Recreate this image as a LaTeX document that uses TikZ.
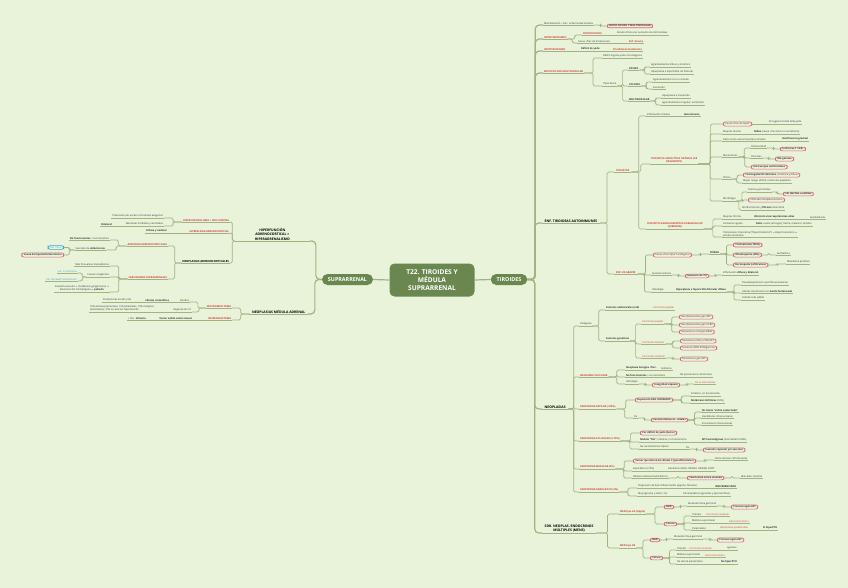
\documentclass[tikz,border=0pt]{standalone}
\usepackage{fontspec}
\setmainfont{Open Sans}
\newfontfamily\symf{DejaVu Sans}
\newcommand\ar{{\symf →}}
\usetikzlibrary{calc}
\definecolor{cBg}{HTML}{E8F3DA}
\definecolor{cOlive}{HTML}{6B8750}
\definecolor{cLine}{HTML}{A3B283}
\definecolor{cRed}{HTML}{D43A3A}
\definecolor{cPink}{HTML}{E4607A}
\definecolor{cBlue}{HTML}{3AA6D6}
\definecolor{cText}{HTML}{333333}
\tikzset{
 lnk/.style={draw=cLine, line width=0.7pt, rounded corners=1.5pt},
 lnk1/.style={draw=cLine, line width=1.2pt, rounded corners=4pt},
 base/.style={font=\fontsize{2.5}{3}\selectfont, inner xsep=0.8pt, inner ysep=0.7pt, text=cText},
 uline/.style={append after command={(\tikzlastnode.south west) edge[lnk] (\tikzlastnode.south east)}},
 ulineH/.style={append after command={(\tikzlastnode.south west) edge[lnk,line width=1pt] (\tikzlastnode.south east)}},
 R/.style={base, anchor=south west, uline},
 L/.style={base, anchor=south east, uline},
 RH/.style={base, anchor=south west, ulineH, inner xsep=2.5pt, font=\fontsize{3.4}{4.2}\selectfont\bfseries, text=black},
 LH/.style={base, anchor=south east, ulineH, inner xsep=2.5pt, font=\fontsize{3.4}{4.2}\selectfont\bfseries, text=black},
 rd/.style={text=cRed},
 rdb/.style={text=cRed, font=\fontsize{2.5}{3}\selectfont\bfseries},
 bb/.style={font=\fontsize{2.5}{3}\selectfont\bfseries},
 bl/.style={text=cBlue},
 pill/.style={base, draw=cPink, line width=0.65pt, rounded corners=2.2pt, inner xsep=2pt, inner ysep=0.9pt, anchor=west},
 pillL/.style={pill, anchor=east},
 bpill/.style={pillL, draw=cBlue, text=cBlue},
 rootn/.style={fill=cOlive, rounded corners=5pt, minimum width=85pt, minimum height=33pt, text=white, font=\fontsize{6.6}{7.8}\selectfont\bfseries, align=center},
 siden/.style={fill=cOlive, rounded corners=5.5pt, minimum height=11pt, inner xsep=6pt, text=white, font=\fontsize{5.4}{6}\selectfont\bfseries},
}
\newcommand\cc[3][lnk]{\draw[#1] (#2) -| ($(#2)!.5!(#3)$) |- (#3);}
\newcommand\cs[3][lnk]{\draw[#1] (#2) -- (#3);}
\begin{document}
\begin{tikzpicture}[x=1pt,y=-1pt]
\fill[cBg] (0,0) rectangle (848,588);
\useasboundingbox (0,0) rectangle (848,588);
% center
\node[rootn] (root) at (432,280) {T22. TIROIDES Y\\MÉDULA\\SUPRARRENAL};
\node[siden] (sup) at (347.5,279.5) {SUPRARRENAL};
\node[siden] (tir) at (509,279.5) {TIROIDES};
\cs[lnk1]{root.west}{sup.east}
\cs[lnk1]{root.east}{tir.west}
% ================= LEFT =================
\node[LH,align=center,minimum width=75pt] (hf) at (310,241) {HIPERFUNCIÓN\\ADRENOCORTICAL =\\HIPERADRENALISMO};
\node[LH] (nm) at (308,314) {NEOPLASIAS MÉDULA ADRENAL};
\cc[lnk1]{sup.west}{hf.south east}
\cc[lnk1]{sup.west}{nm.south east}
\node[L,rdb] (hc) at (230,222) {HIPERCORTISOLISMO = SDR CUSHING};
\node[L] (hc1) at (164,218) {Provocado por exceso corticoides exógenos};
\node[L] (hc2) at (164,226) {Glándulas inhibidas y atrofiadas};
\node[L,bb] (hc3) at (113,226) {Bilateral};
\node[L,rdb] (hp) at (230,233) {HIPERPLASIA ADRENOCORTICAL};
\node[L,bb] (hp1) at (168,233) {Difusa y nodular};
\node[L,font=\fontsize{2.8}{3.3}\selectfont\bfseries,text=black] (na) at (230,263) {NEOPLASIAS ADRENOCORTICALES};
\node[L,rdb] (aa) at (168,246) {ADENOMA ADRENOCORTICALES};
\node[L] (aa1) at (110,240) {\textbf{No funcionantes} > Funcionantes};
\node[L] (aa2) at (106,250) {Secretan de \textbf{aldosterona}};
\node[bpill] (aa3) at (64,247.5) {Sdr. Conn};
\node[pillL,bb] (aa4) at (64,255) {Causa de hiperaldosteronismo};
\node[L,rdb] (cs) at (168,279) {CARCINOMAS SUPRARRENALES};
\node[L] (cs1) at (110,266) {Más frecuentes metastásicos};
\node[L] (cs2) at (110,277) {Causas congénitas};
\node[L,bl] (cs3) at (78,273) {Sdr. Li-Fraumeni};
\node[L,bl] (cs4) at (78,281) {Sdr. Beckwith-Wiedemann};
\node[L,align=center] (cs5) at (110,292) {Invasión vascular \ar\ metástasis ganglionares \ar\\diseminación hematógena \ar\ \textbf{pulmón}};
\cc{hf.south west}{hc.south east}
\cc{hc.south west}{hc1.south east}
\cc{hc.south west}{hc2.south east}
\cs{hc2.south west}{hc3.south east}
\cc{hf.south west}{hp.south east}
\cs{hp.south west}{hp1.south east}
\cc{hf.south west}{na.south east}
\cc{na.south west}{aa.south east}
\cc{aa.south west}{aa1.south east}
\cc{aa.south west}{aa2.south east}
\cc{aa2.south west}{aa3.east}
\cc{aa2.south west}{aa4.east}
\cc{na.south west}{cs.south east}
\cc{cs.south west}{cs1.south east}
\cc{cs.south west}{cs2.south east}
\cc{cs2.south west}{cs3.south east}
\cc{cs2.south west}{cs4.south east}
\cc{cs.south west}{cs5.south east}
\node[L,rdb] (fe) at (232,308) {FEOCROMOCITOMA};
\node[L] (fe1) at (190,302) {Adultos};
\node[L,bb] (fe2) at (170,302) {Células cromafines};
\node[L] (fe3) at (132,302) {Productoras de AD y NA};
\node[L] (fe4) at (192,312) {Regla de los 10};
\node[L,align=left] (fe5) at (155,312) {10\% extrasuprarrenales, 10\% bilaterales, 10\% malignos\\(metástasis), 10\% no asocian hipertensión};
\node[L,rdb] (nb) at (232,320) {NEUROBLASTOMA};
\node[L,bb] (nb1) at (193,320) {Tumor sólido extracraneal};
\node[L] (nb2) at (147,320) {+ frec. \textbf{Infancia}};
\cc{nm.south west}{fe.south east}
\cc{fe.south west}{fe1.south east}
\cs{fe1.south west}{fe2.south east}
\cs{fe2.south west}{fe3.south east}
\cc{fe.south west}{fe4.south east}
\cs{fe4.south west}{fe5.south east}
\cc{nm.south west}{nb.south east}
\cs{nb.south west}{nb1.south east}
\cs{nb1.south west}{nb2.south east}
% ================= RIGHT =================
\node[R] (m1) at (543,25) {Manifestación + frec. enfermedad tiroidea};
\node[pill,bb] (m1p) at (607,26) {BOCIO DIFUSO Y MULTINODULAR};
\node[R,rdb] (ht) at (543,39) {HIPERTIROIDISMO};
\node[R,rdb] (tt) at (582,35) {TIROTOXICOSIS};
\node[R] (tt1) at (616,35) {Estado clínico por aumento de HH tiroideas};
\node[R] (ht2) at (577,43) {Causa +frec de tirotoxicosis};
\node[R,rdb] (ht3) at (628,43) {Enf. Graves};
\node[R,rdb] (hpo) at (543,51) {HIPOTIROIDISMO};
\node[R,bb] (hpo1) at (580,51) {Déficit de yodo};
\node[R,rdb] (hpo2) at (612,51) {Tiroiditis de Hashimoto};
\node[R,rdb] (bo) at (543,73) {BOCIO DIFUSO MULTINODULAR};
\node[R] (bo1) at (602,58) {Déficit ingesta yodo o bociógenos};
\node[R] (bo2) at (602,86) {Tipos bocio};
\node[R,bb] (df) at (628,70) {DIFUSO};
\node[R] (df1) at (650,67) {Agrandamiento difuso y simétrico};
\node[R] (df2) at (650,74) {Hiperplasia e hipertrofia cel folicular};
\node[R,bb] (co) at (628,86) {COLOIDE};
\node[R] (co1) at (652,82) {Agrandamiento rico en coloide};
\node[R] (co2) at (652,89) {Involución};
\node[R,bb] (mn) at (628,101) {MULTINODULAR};
\node[R] (mn1) at (661,98) {Hiperplasia e involución};
\node[R] (mn2) at (661,105) {Agrandamiento irregular, asimétrico};
\cc[lnk1]{tir.east}{m1.south west}
\cc{m1.south east}{m1p.west}
\cc[lnk1]{tir.east}{ht.south west}
\cc{ht.south east}{tt.south west}
\cs{tt.south east}{tt1.south west}
\cc{ht.south east}{ht2.south west}
\cs{ht2.south east}{ht3.south west}
\cc[lnk1]{tir.east}{hpo.south west}
\cs{hpo.south east}{hpo1.south west}
\cs{hpo1.south east}{hpo2.south west}
\cc[lnk1]{tir.east}{bo.south west}
\cc{bo.south east}{bo1.south west}
\cc{bo.south east}{bo2.south west}
\cc{bo2.south east}{df.south west}
\cc{bo2.south east}{co.south west}
\cc{bo2.south east}{mn.south west}
\cc{df.south east}{df1.south west}
\cc{df.south east}{df2.south west}
\cc{co.south east}{co1.south west}
\cc{co.south east}{co2.south west}
\cc{mn.south east}{mn1.south west}
\cc{mn.south east}{mn2.south west}
% ENF AUTOINMUNES
\node[RH] (et) at (542,223) {ENF. TIROIDEAS AUTOINMUNES};
\cc[lnk1]{tir.east}{et.south west}
\node[R,rdb,inner xsep=2pt] (ti) at (614,172) {TIROIDITIS};
\node[R] (ti1) at (646,116) {Inflamación tiroides};
\node[R,bb] (ti2) at (683,116) {Autoinmune};
\node[R,rdb,align=center] (ha) at (650,164) {TIROIDITIS LINFOCÍTICA CRÓNICA (DE\\HASHIMOTO)};
\node[pill] (ha1) at (723,124) {Causa +frec de hipoT};
\node[R] (ha1a) at (768,124) {En lugares donde falta yodo};
\node[R] (ha2) at (722,134) {Mujeres 45-65a};
\node[R] (ha2a) at (753,134) {\textbf{Niños} (causa +frec bocio no endémico)};
\node[R] (ha3) at (722,141) {Destrucción autoinmunitaria tiroides};
\node[R,bb] (ha3a) at (781,141) {Insuficiencia gradual};
\node[R] (ha4) at (722,157) {Mecanismos};
\node[R] (ha4a) at (750,148) {Citotoxicidad};
\node[pill,bb] (ha4b) at (780,149) {Linfocitos T CD8+};
\node[R] (ha4c) at (750,158) {Citocinas};
\node[pill,bb] (ha4d) at (775,159) {INF-gamma};
\node[pill,bb] (ha4e) at (751,167) {Anticuerpos antitiroideos};
\node[R] (ha5) at (722,179) {Clínica};
\node[pill] (ha5a) at (743,175) {\textbf{Tiromegalia NO dolorosa}, simétrica y difusa};
\node[R] (ha5b) at (742,183) {Mayor riesgo LNH B, carcinoma papilares};
\node[R] (ha6) at (722,201) {Morfología};
\node[R] (ha6a) at (747,192) {Centros germinales};
\node[pill,bb] (ha6b) at (783,194) {Cél Hürthle u oxífilas};
\node[pill] (ha6c) at (748,200) {Infiltrado linfoplasmocitario};
\node[R] (ha6d) at (741,210) {Atrofia folicular y \textbf{fibrosis} intersticial};
\node[R,rdb,align=center] (dq) at (646,229) {TIROIDITIS GRANULOMATOSA SUBAGUDA (DE\\QUERVAIN)};
\node[R] (dq1) at (722,219) {Mujeres 30-50a};
\node[R,bb] (dq2) at (753,219) {Infección vías respiratorias altas};
\node[R] (dq3) at (809,219) {Autolimitada};
\node[R] (dq4) at (722,226) {Comienzo agudo};
\node[R] (dq5) at (755,226) {\textbf{Dolor} cuello (al tragar), fiebre, malestar, tiroides};
\node[R,align=left] (dq6) at (722,237) {Tirotoxicosis transitoria (``hipertiroidismo'') \ar\ Hipot transitorio \ar\\estado eutiroideo};
\cc{et.south east}{ti.south west}
\cc{ti.south east}{ti1.south west}
\cs{ti1.south east}{ti2.south west}
\cc{ti.south east}{ha.south west}
\cc{ha.south east}{ha1.west}
\cs{ha1.east}{ha1a.south west}
\cc{ha.south east}{ha2.south west}
\cs{ha2.south east}{ha2a.south west}
\cc{ha.south east}{ha3.south west}
\cs{ha3.south east}{ha3a.south west}
\cc{ha.south east}{ha4.south west}
\cc{ha4.south east}{ha4a.south west}
\cc{ha4a.south east}{ha4b.west}
\cc{ha4.south east}{ha4c.south west}
\cc{ha4c.south east}{ha4d.west}
\cc{ha4.south east}{ha4e.west}
\cc{ha.south east}{ha5.south west}
\cc{ha5.south east}{ha5a.west}
\cc{ha5.south east}{ha5b.south west}
\cc{ha.south east}{ha6.south west}
\cc{ha6.south east}{ha6a.south west}
\cc{ha6a.south east}{ha6b.west}
\cc{ha6.south east}{ha6c.west}
\cc{ha6.south east}{ha6d.south west}
\cc{ti.south east}{dq.south west}
\cc{dq.south east}{dq1.south west}
\cs{dq1.south east}{dq2.south west}
\cs{dq2.south east}{dq3.south west}
\cc{dq.south east}{dq4.south west}
\cs{dq4.south east}{dq5.south west}
\cc{dq.south east}{dq6.south west}
% GRAVES
\node[R,rdb,inner xsep=2pt] (gr) at (614,274) {ENF. DE GRAVES};
\node[pill] (gr1) at (653,255) {Causa +frec hiperT endógeno};
\node[R,bb] (gr2) at (709,254) {TRÍADA};
\node[pill,bb] (gr3) at (733,245) {Tirotoxicosis (100\%)};
\node[pill,bb] (gr4) at (733,255) {Oftalmopatía (40\%)};
\node[R] (gr4a) at (776,255) {Exoftalmos};
\node[pill,bb] (gr5) at (733,265) {Dermopatía (infiltrativa)};
\node[R] (gr5a) at (786,264) {Mixedema pretibial};
\node[R] (gr6) at (651,275) {Autoinmunitaria};
\node[pill,bb] (gr7) at (685,276) {Aumento de TSI};
\node[R] (gr8) at (722,275) {Inflamación \textbf{difusa y bilateral}};
\node[R] (gr9) at (651,292) {Histología};
\node[R,bb] (gr10) at (675,292) {Hiperplasia e hipertrofia folicular difusa};
\node[R] (gr11) at (741,285) {Pseudopapilas (sin ejes fibrovasculares)};
\node[R] (gr12) at (741,293) {Células columnares con \textbf{borde festoneado}};
\node[R] (gr13) at (741,300) {Coloide más pálido};
\cc{et.south east}{gr.south west}
\cc{gr.south east}{gr1.west}
\cc{gr1.east}{gr2.south west}
\cc{gr2.south east}{gr3.west}
\cc{gr2.south east}{gr4.west}
\cc{gr2.south east}{gr5.west}
\cc{gr4.east}{gr4a.south west}
\cc{gr5.east}{gr5a.south west}
\cc{gr.south east}{gr6.south west}
\cc{gr6.south east}{gr7.west}
\cc{gr7.east}{gr8.south west}
\cc{gr.south east}{gr9.south west}
\cs{gr9.south east}{gr10.south west}
\cc{gr10.south east}{gr11.south west}
\cc{gr10.south east}{gr12.south west}
\cc{gr10.south east}{gr13.south west}
% NEOPLASIAS
\node[RH] (ne) at (542,409) {NEOPLASIAS};
\cc[lnk1]{tir.east}{ne.south west}
\node[R] (pg) at (579,326) {Patogenia};
\node[R,bb] (pa) at (605,310) {Factores ambientales (rad)};
\node[R,rd] (pa1) at (652,310) {Carcinoma papilar};
\node[R,bb] (pgn) at (605,341) {Factores genéticos};
\node[R,rd] (gp) at (641,324) {Carcinoma papilar};
\node[pill] (gp1) at (679,317) {Reordenamiento gen RET};
\node[pill] (gp2) at (679,325) {Reordenamiento gen NTRK};
\node[pill] (gp3) at (679,332) {Mutaciones oncogén BRAF};
\node[R,rd] (gf) at (641,344) {Carcinoma folicular};
\node[pill] (gf1) at (680,341) {Mutaciones RAS y PI3K/AKT};
\node[pill] (gf2) at (680,348) {Fusiones PAX8-PPARgamma};
\node[R,rd] (gm) at (641,358) {Carcinoma medular};
\node[pill] (gm1) at (680,359) {Mutaciones gen RET};
\cc{ne.south east}{pg.south west}
\cc{pg.south east}{pa.south west}
\cs{pa.south east}{pa1.south west}
\cc{pg.south east}{pgn.south west}
\cc{pgn.south east}{gp.south west}
\cc{gp.south east}{gp1.west}
\cc{gp.south east}{gp2.west}
\cc{gp.south east}{gp3.west}
\cc{pgn.south east}{gf.south west}
\cc{gf.south east}{gf1.west}
\cc{gf.south east}{gf2.west}
\cc{pgn.south east}{gm.south west}
\cc{gm.south east}{gm1.west}
\node[R,rdb] (af) at (579,377) {ADENOMA FOLICULAR};
\node[R,bb] (af1) at (625,370) {Neoplasia benigna +frec.};
\node[R] (af1a) at (660,370) {Solitarios};
\node[R] (af2) at (625,377) {\textbf{No funcionantes} > Funcionantes};
\node[R] (af2a) at (679,377) {No precursores carcinomas};
\node[R] (af3) at (625,384) {Histología};
\node[pill,bb] (af4) at (652,385) {Integridad cápsula};
\node[R,rd] (af5) at (694,384) {Dx vs carcinomas};
\cc{ne.south east}{af.south west}
\cc{af.south east}{af1.south west}
\cs{af1.south east}{af1a.south west}
\cc{af.south east}{af2.south west}
\cs{af2.south east}{af2a.south west}
\cc{af.south east}{af3.south west}
\cc{af3.south east}{af4.west}
\cc{af4.east}{af5.south west}
\node[R,rdb] (cp) at (579,409) {CARCINOMA PAPILAR (>85\%)};
\node[pill,bb] (cp1) at (635,400) {Exposición RAD IONIZANTE};
\node[R] (cp1a) at (690,396) {Indoloro, no funcionante};
\node[R] (cp1b) at (690,403) {\textbf{Metástasis linfáticas} (50\%)};
\node[R] (cp2) at (633,418) {Dx};
\node[pill,bb] (cp3) at (651,420) {Características nc. células};
\node[R,bb] (cp3a) at (701,412) {Nc claros ``vidrio esmerilado''};
\node[R] (cp3b) at (701,418) {Hendiduras intranucleares};
\node[R] (cp3c) at (701,425) {Inclusiones intranucleares};
\cc{ne.south east}{cp.south west}
\cc{cp.south east}{cp1.west}
\cc{cp1.east}{cp1a.south west}
\cc{cp1.east}{cp1b.south west}
\cc{cp.south east}{cp2.south west}
\cc{cp2.south east}{cp3.west}
\cc{cp3.east}{cp3a.south west}
\cc{cp3.east}{cp3b.south west}
\cc{cp3.east}{cp3c.south west}
\node[R,rdb] (cf) at (579,441) {CARCINOMA FOLICULAR (5-15\%)};
\node[pill,bb] (cf1) at (640,433) {Por déficit de yodo (bocio)};
\node[R] (cf2) at (639,442) {\textbf{Nódulo ``frío''}, indoloro, no funcionante};
\node[R] (cf2a) at (701,442) {\textbf{MT hematógenas} (mortalidad 5-80\%)};
\node[R] (cf3) at (639,449) {No características típicas};
\node[R] (cf4) at (685,449) {Dx};
\node[pill,bb] (cf5) at (703,450) {Invasión capsular y/o vascular};
\cc{ne.south east}{cf.south west}
\cc{cf.south east}{cf1.west}
\cc{cf.south east}{cf2.south west}
\cs{cf2.south east}{cf2a.south west}
\cc{cf.south east}{cf3.south west}
\cs{cf3.south east}{cf4.south west}
\cc{cf4.south east}{cf5.west}
\node[R,rdb] (cm) at (579,469) {CARCINOMA MEDULAR (5\%)};
\node[pill,bb] (cm1) at (633,461) {Tumor que deriva de células C (parafoliculares)};
\node[R] (cm1a) at (714,460) {Resto derivan cél foliculares};
\node[R] (cm2) at (632,471) {Esporádicos (70\%)};
\node[R] (cm2a) at (667,471) {Familiares (30\%): MEN2A, MEN2B, CMTF};
\node[R] (cm3) at (632,478) {Nódulo solitario/multicéntrico};
\node[pill,bb] (cm4) at (687,478) {Calcitonina sérica elevada};
\node[R] (cm4a) at (740,478) {Marcador tumoral};
\cc{ne.south east}{cm.south west}
\cc{cm.south east}{cm1.west}
\cc{cm1.east}{cm1a.south west}
\cc{cm.south east}{cm2.south west}
\cs{cm2.south east}{cm2a.south west}
\cc{cm.south east}{cm3.south west}
\cc{cm3.south east}{cm4.west}
\cc{cm4.east}{cm4a.south west}
\node[R,rdb] (ca) at (579,492) {CARCINOMA ANAPLÁSICO (2\%)};
\node[R] (ca1) at (637,488) {Progresión de bien diferenciados (papilar, folicular)};
\node[R,bb] (ca1a) at (714,488) {INDIFERENCIADO};
\node[R] (ca2) at (637,496) {Muy agresivo y letal (<1a)};
\node[R] (ca2a) at (682,496) {Cél anaplásicas (grandes y pleomórficas)};
\cc{ne.south east}{ca.south west}
\cc{ca.south east}{ca1.south west}
\cs{ca1.south east}{ca1a.south west}
\cc{ca.south east}{ca2.south west}
\cs{ca2.south east}{ca2a.south west}
% MEN
\node[RH,align=center] (mens) at (542,533) {SDR. NEOPLAS. ENDOCRINOS\\MÚLTIPLES (MENS)};
\cc[lnk1]{tir.east}{mens.south west}
\node[R,rdb] (m2a) at (619,514) {MEN tipo 2A (Sipple)};
\node[pill,bb] (m2a1) at (664,507) {HAD};
\node[R] (m2a2) at (687,506) {Mutación línea germinal};
\node[pill,bb] (m2a3) at (731,507) {Protooncogén RET};
\node[pill,bb] (m2a4) at (664,524) {Clínica};
\node[R] (m2a5) at (691,516) {Tiroides};
\node[R,rd] (m2a6) at (705,516) {Carcinoma medular};
\node[R] (m2a7) at (691,523) {Médula suprarrenal};
\node[R,rd] (m2a8) at (728,523) {Feocromocitoma};
\node[R] (m2a9) at (691,530) {Paratiroides};
\node[R,rd] (m2a10) at (719,530) {Hiperplasia paratiroidea};
\node[R,bb] (m2a11) at (762,530) {Sí hiperPTH};
\cc{mens.south east}{m2a.south west}
\cc{m2a.south east}{m2a1.west}
\cc{m2a1.east}{m2a2.south west}
\cc{m2a2.south east}{m2a3.west}
\cc{m2a.south east}{m2a4.west}
\cc{m2a4.east}{m2a5.south west}
\cs{m2a5.south east}{m2a6.south west}
\cc{m2a4.east}{m2a7.south west}
\cs{m2a7.south east}{m2a8.south west}
\cc{m2a4.east}{m2a9.south west}
\cs{m2a9.south east}{m2a10.south west}
\cs{m2a10.south east}{m2a11.south west}
\node[R,rdb] (m2b) at (619,548) {MEN tipo 2B};
\node[pill,bb] (m2b1) at (650,540) {HAD};
\node[R] (m2b2) at (673,539) {Mutación línea germinal};
\node[pill,bb] (m2b3) at (717,540) {Protooncogén RET};
\node[pill,bb] (m2b4) at (650,558) {Clínica};
\node[R] (m2b5) at (676,550) {Tiroides};
\node[R,rd] (m2b6) at (688,550) {Carcinoma medular};
\node[R] (m2b7) at (726,550) {agresivo};
\node[R] (m2b8) at (676,557) {Médula suprarrenal};
\node[R,rd] (m2b9) at (704,557) {Feocromocitoma};
\node[R] (m2b10) at (676,564) {No afecta paratiroides};
\node[R,bb] (m2b11) at (720,564) {No hiperPTH};
\cc{mens.south east}{m2b.south west}
\cc{m2b.south east}{m2b1.west}
\cc{m2b1.east}{m2b2.south west}
\cc{m2b2.south east}{m2b3.west}
\cc{m2b.south east}{m2b4.west}
\cc{m2b4.east}{m2b5.south west}
\cs{m2b5.south east}{m2b6.south west}
\cs{m2b6.south east}{m2b7.south west}
\cc{m2b4.east}{m2b8.south west}
\cs{m2b8.south east}{m2b9.south west}
\cc{m2b4.east}{m2b10.south west}
\cs{m2b10.south east}{m2b11.south west}
\end{tikzpicture}
\end{document}
